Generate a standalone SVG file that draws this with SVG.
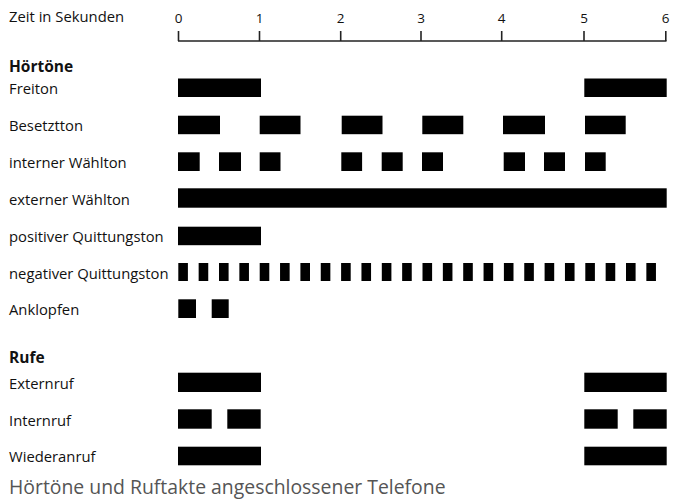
<svg xmlns="http://www.w3.org/2000/svg" width="673" height="501" viewBox="0 0 673 501">
<style>
text{font-family:"Open Sans","Liberation Sans",sans-serif;fill:#111}
.lbl{font-size:14.8px}
.hd{font-size:15.5px;font-weight:bold}
.num{font-size:13.5px;text-anchor:middle}
.cap{font-size:19.4px;fill:#555}
.bar rect{fill:#000}
.axis line{stroke:#222;stroke-width:1.6}
</style>
<rect width="673" height="501" fill="#fff"/>
<g id="axis" class="axis">
<text class="lbl" x="9" y="22">Zeit in Sekunden</text>
<line x1="178" y1="41" x2="666.5" y2="41"/>
<line x1="178.5" y1="31" x2="178.5" y2="41"/>
<line x1="259.5" y1="31" x2="259.5" y2="41"/>
<line x1="340.7" y1="31" x2="340.7" y2="41"/>
<line x1="421" y1="31" x2="421" y2="41"/>
<line x1="501.7" y1="31" x2="501.7" y2="41"/>
<line x1="584" y1="31" x2="584" y2="41"/>
<line x1="665.8" y1="31" x2="665.8" y2="41"/>
<text class="num" x="178.5" y="22.5">0</text>
<text class="num" x="259.5" y="22.5">1</text>
<text class="num" x="340.7" y="22.5">2</text>
<text class="num" x="421" y="22.5">3</text>
<text class="num" x="501.7" y="22.5">4</text>
<text class="num" x="584" y="22.5">5</text>
<text class="num" x="665.5" y="22.5">6</text>
</g>
<text id="hoertoene" class="hd" x="9" y="72">Hörtöne</text>
<g id="freiton" class="bar">
<text class="lbl" x="9" y="94">Freiton</text>
<rect x="178" y="78.5" width="83" height="18.5"/>
<rect x="584.3" y="78.5" width="82.4" height="18.5"/>
</g>
<g id="besetztton" class="bar">
<text class="lbl" x="9" y="131">Besetztton</text>
<rect x="178" y="115.7" width="42" height="18.5"/>
<rect x="259.7" y="115.7" width="40.8" height="18.5"/>
<rect x="341.7" y="115.7" width="40.8" height="18.5"/>
<rect x="422.3" y="115.7" width="41" height="18.5"/>
<rect x="503" y="115.7" width="42" height="18.5"/>
<rect x="585" y="115.7" width="40.7" height="18.5"/>
</g>
<g id="interner-waehlton" class="bar">
<text class="lbl" x="9" y="168">interner Wählton</text>
<rect x="178" y="152.3" width="21.7" height="18.7"/>
<rect x="219" y="152.3" width="22" height="18.7"/>
<rect x="259.7" y="152.3" width="20.8" height="18.7"/>
<rect x="341.3" y="152.3" width="20.8" height="18.7"/>
<rect x="381.7" y="152.3" width="21" height="18.7"/>
<rect x="422" y="152.3" width="21" height="18.7"/>
<rect x="503.7" y="152.3" width="21.3" height="18.7"/>
<rect x="544" y="152.3" width="21" height="18.7"/>
<rect x="585" y="152.3" width="20.7" height="18.7"/>
</g>
<g id="externer-waehlton" class="bar">
<text class="lbl" x="9" y="204.5">externer Wählton</text>
<rect x="178" y="188.3" width="488.7" height="19.4"/>
</g>
<g id="positiver-quittungston" class="bar">
<text class="lbl" x="9" y="242">positiver Quittungston</text>
<rect x="178" y="226.7" width="83" height="18.5"/>
</g>
<g id="negativer-quittungston" class="bar">
<text class="lbl" x="9" y="278.5">negativer Quittungston</text>
<rect x="178.3" y="263" width="9.6" height="18"/>
<rect x="198.65" y="263" width="9.6" height="18"/>
<rect x="219" y="263" width="9.6" height="18"/>
<rect x="239.35" y="263" width="9.6" height="18"/>
<rect x="259.7" y="263" width="9.6" height="18"/>
<rect x="280.05" y="263" width="9.6" height="18"/>
<rect x="300.4" y="263" width="9.6" height="18"/>
<rect x="320.75" y="263" width="9.6" height="18"/>
<rect x="341.1" y="263" width="9.6" height="18"/>
<rect x="361.45" y="263" width="9.6" height="18"/>
<rect x="381.8" y="263" width="9.6" height="18"/>
<rect x="402.15" y="263" width="9.6" height="18"/>
<rect x="422.5" y="263" width="9.6" height="18"/>
<rect x="442.85" y="263" width="9.6" height="18"/>
<rect x="463.2" y="263" width="9.6" height="18"/>
<rect x="483.55" y="263" width="9.6" height="18"/>
<rect x="503.9" y="263" width="9.6" height="18"/>
<rect x="524.25" y="263" width="9.6" height="18"/>
<rect x="544.6" y="263" width="9.6" height="18"/>
<rect x="564.95" y="263" width="9.6" height="18"/>
<rect x="585.3" y="263" width="9.6" height="18"/>
<rect x="605.65" y="263" width="9.6" height="18"/>
<rect x="626" y="263" width="9.6" height="18"/>
<rect x="646.35" y="263" width="9.6" height="18"/>
</g>
<g id="anklopfen" class="bar">
<text class="lbl" x="9" y="315">Anklopfen</text>
<rect x="178.3" y="299.3" width="17.7" height="18.7"/>
<rect x="211.7" y="299.3" width="17" height="18.7"/>
</g>
<text id="rufe" class="hd" x="9" y="363">Rufe</text>
<g id="externruf" class="bar">
<text class="lbl" x="9" y="389">Externruf</text>
<rect x="178" y="372.7" width="83" height="19.3"/>
<rect x="584.3" y="372.7" width="82.4" height="19.3"/>
</g>
<g id="internruf" class="bar">
<text class="lbl" x="9" y="425.5">Internruf</text>
<rect x="178" y="409.3" width="33.7" height="19.4"/>
<rect x="227.3" y="409.3" width="33.4" height="19.4"/>
<rect x="584.3" y="409.3" width="33.4" height="19.4"/>
<rect x="633.3" y="409.3" width="33.4" height="19.4"/>
</g>
<g id="wiederanruf" class="bar">
<text class="lbl" x="9" y="462">Wiederanruf</text>
<rect x="178" y="446.7" width="83" height="18.6"/>
<rect x="584.3" y="446.7" width="82.4" height="18.6"/>
</g>
<text id="caption" class="cap" x="9" y="494">Hörtöne und Ruftakte angeschlossener Telefone</text>
</svg>
